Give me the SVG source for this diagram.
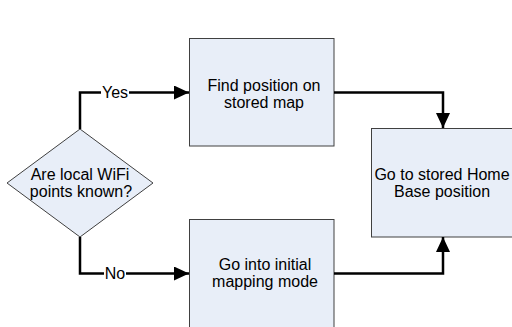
<svg xmlns="http://www.w3.org/2000/svg" width="512" height="327" viewBox="0 0 512 327">
<style>
.node{fill:#E8EEF8;stroke:#404040;stroke-width:1}
.lbl{font-family:"Liberation Sans",Arial,sans-serif;font-size:16px;fill:#000;text-anchor:middle}
.conn{fill:none;stroke:#000;stroke-width:2.5}
</style>
<defs>
<marker id="ah" viewBox="0 0 15 14" refX="15" refY="7" markerWidth="15" markerHeight="14" markerUnits="userSpaceOnUse" orient="auto">
<path d="M0,0 L15,7 L0,14 Z" fill="#000"/>
</marker>
</defs>
<rect width="512" height="327" fill="#fff"/>
<g id="decision">
<polygon class="node" points="80,129 153,183 80,237 7,183"/>
<text class="lbl" x="80" y="180">Are local WiFi</text>
<text class="lbl" x="81" y="197">points known?</text>
</g>
<g id="find">
<rect class="node" x="189.5" y="38.5" width="144.5" height="107.5"/>
<text class="lbl" x="264" y="90.5">Find position on</text>
<text class="lbl" x="264" y="107.5">stored map</text>
</g>
<g id="mapping">
<rect class="node" x="189.5" y="219.5" width="144.5" height="120"/>
<text class="lbl" x="265" y="270">Go into initial</text>
<text class="lbl" x="265" y="287">mapping mode</text>
</g>
<g id="home">
<rect class="node" x="371.5" y="128.5" width="150" height="108.5"/>
<text class="lbl" x="442" y="180">Go to stored Home</text>
<text class="lbl" x="442" y="197">Base position</text>
</g>
<g id="connectors">
<path class="conn" d="M80,129 V92.5 H189" marker-end="url(#ah)"/>
<path class="conn" d="M80,237 V273.5 H189" marker-end="url(#ah)"/>
<path class="conn" d="M334,92.5 H443 V128" marker-end="url(#ah)"/>
<path class="conn" d="M334,273.5 H443 V237" marker-end="url(#ah)"/>
<rect x="101" y="85" width="28" height="15" fill="#fff"/>
<text class="lbl" x="115" y="98">Yes</text>
<rect x="104" y="266" width="22" height="15" fill="#fff"/>
<text class="lbl" x="115" y="279">No</text>
</g>
</svg>
